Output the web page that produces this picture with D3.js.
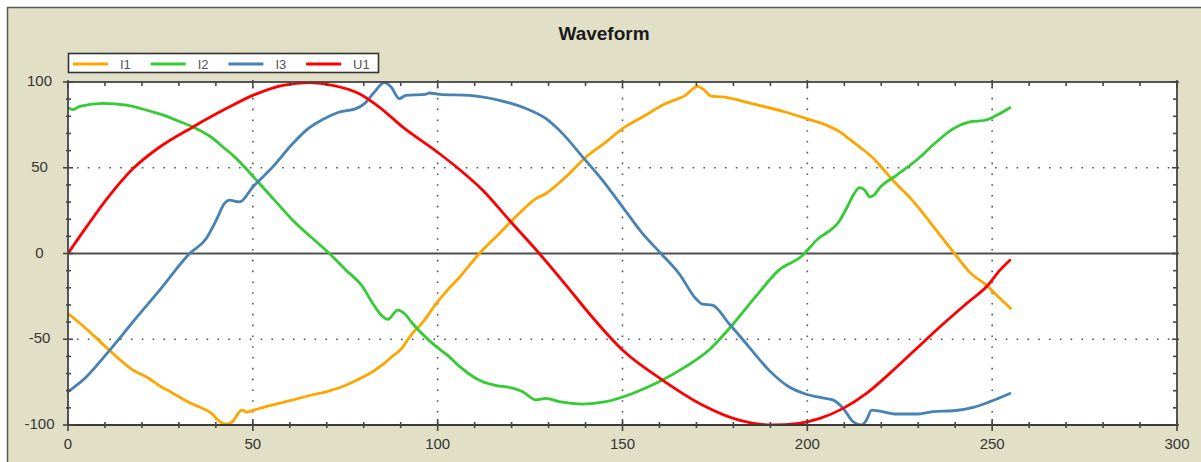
<!DOCTYPE html>
<html>
<head>
<meta charset="utf-8">
<script src="https://cdn.jsdelivr.net/npm/d3@7"></script>
<style>
  html, body { margin: 0; padding: 0; background: #ffffff; }
  svg { display: block; font-family: "Liberation Sans", Arial, sans-serif; }
</style>
</head>
<body>
<svg id="chart" width="1201" height="462"></svg>
<script>
// ---------------- data ----------------
const title = "Waveform";
const seriesNames = ["I1", "I2", "I3", "U1"];
const seriesColors = ["#ffa500", "#33cc33", "#4682b4", "#ff0000"];
const xTicks = [0, 50, 100, 150, 200, 250, 300];
const yTicks = [-100, -50, 0, 50, 100];

const i1 = [[0,-35],[5,-44],[11,-56],[17.6,-68],[22,-73],[25,-77.5],[28,-81],[32,-86],[35,-89],[37.4,-91.3],
  [39,-93.5],[40.5,-97],[42.8,-99.5],[44.5,-98],[46.5,-92],[47.2,-91.3],[48.3,-92.5],[50,-91.5],[54,-89],
  [57,-87.4],[60,-85.8],[66,-82.5],[70,-80.5],[75,-77],[80,-71.8],[82,-69.5],[85,-65],[88,-59.5],[90,-56],
  [93,-47],[96,-40],[99.5,-29.5],[103,-20.5],[106,-13.6],[111.3,0],[116.7,11.7],[122,23.3],[126.6,32],
  [129.3,35],[134.7,44.7],[140,56],[145.5,65],[150,72.8],[155.4,79.6],[161.7,87.4],[167,92.2],[170.3,97.5],
  [172,95.5],[174,91.7],[177,91.3],[185,87.4],[194,82.5],[200,78.5],[205,75],[208.8,70.9],[211.5,66.5],
  [214.2,62],[216.9,57.4],[219.6,51.5],[223,43],[228.6,30.5],[234,16],[239.8,0],[244,-11],[248.7,-19],
  [252,-26],[255,-32]];

const i2 = [[0,85],[1.4,83.9],[3.2,85.8],[9.5,87.5],[15.8,86.5],[20.4,84.1],[23,82.5],[26,80.5],[29.3,77.7],
  [33.8,73.8],[38.3,68.5],[42.8,60.5],[45,56.5],[47.3,51.5],[51.8,40.8],[56.3,30.1],[60.8,19.4],[66.2,8.7],
  [70.7,0],[75.2,-9.7],[79.7,-19.4],[82.4,-29],[84.7,-35.9],[86.5,-38.4],[89.2,-33],[91,-35],[93.2,-40.8],
  [98.6,-52.4],[103,-60],[106,-66],[109,-71],[112.2,-74.8],[116,-77],[119.4,-78.1],[123,-80.6],[126.6,-85.4],
  [129.3,-84.5],[132.9,-86.4],[139.2,-87.8],[145.5,-86.4],[152.7,-81.6],[159.9,-74.8],[167.1,-66],
  [173.4,-56.3],[179.7,-41.7],[186,-25.2],[192.3,-9.7],[198.5,-1.5],[202.5,7.8],[208.8,19.4],[211,28],
  [212.4,34],[214.2,38.4],[215.5,37],[216.9,33],[218,34],[219.6,38.4],[224.1,45.6],[229.5,54.4],[234.9,65],
  [239.5,72.8],[243.9,76.7],[248,77.7],[251.2,80.6],[254.8,85]];

const i3 = [[0,-80.6],[5,-71.8],[11.3,-56.3],[17.6,-39.8],[24.8,-21.4],[32.9,0],[37.4,8.7],[40.1,19.4],
  [42.3,29.1],[43.7,31.1],[46.4,30.1],[50,38.8],[55.4,50.5],[60.8,64.1],[64.4,71.8],[68.9,78.1],[73.4,82.5],
  [77.9,84.5],[80.2,87.4],[82.9,94.2],[85.6,99.6],[87.4,97.1],[89.6,90.3],[91.4,92.2],[96.8,92.8],[97.7,93.6],
  [100.5,92.8],[108.6,92.2],[116.7,89.3],[123.9,84.5],[129.3,78.6],[133.8,69.9],[139.2,56.3],[144.6,42.7],
  [150,27.2],[155.4,11.7],[160.4,0],[165.3,-11.7],[169.8,-26.2],[171.6,-29.5],[174.3,-30.1],[178.8,-40.8],
  [184.2,-54.4],[189.6,-68],[195,-77.7],[199.5,-81.9],[204.9,-84.5],[207,-85.5],[209.7,-90.3],[212.4,-98.1],
  [214.7,-100],[216,-97.1],[217.4,-91.3],[219.2,-91.7],[224.1,-93.6],[229.5,-93.6],[234,-92.2],[239.5,-91.7],
  [244.9,-89.7],[249.4,-86.4],[254.8,-81.6]];

const u1 = [[0,0],[5,15.5],[11.3,34],[17.6,49.5],[24.8,62.1],[33.8,73.8],[42.8,84.5],[50,92.2],[58.1,98.1],
  [65.3,99.6],[71.6,98.1],[78.8,93.2],[84.2,85.4],[90.5,73.8],[100,59],[105.9,49],[112.2,36.9],[119.4,19.4],
  [127.5,0],[134.7,-18.4],[141,-35],[150,-56.3],[160.8,-73.8],[171.6,-88.3],[181.5,-97.1],[190.5,-100],
  [197.7,-99],[203.4,-96.1],[209.7,-90.3],[216,-81.6],[222.3,-69.9],[228.6,-57.3],[235.9,-42.7],
  [243.1,-29.1],[248.9,-18.4],[252.1,-9.7],[254.8,-3.9]];

const seriesData = [i1, i2, i3, u1];

// ---------------- layout ----------------
const W = 1201, H = 462;
const plot = { left: 68, right: 1177, top: 82, bottom: 425 };
const svg = d3.select("#chart");

const x = d3.scaleLinear().domain([0, 300]).range([plot.left, plot.right]);
const y = d3.scaleLinear().domain([-100, 100]).range([plot.bottom, plot.top]);

// outer panel
svg.append("rect").attr("x", 0).attr("y", 0).attr("width", W).attr("height", H).attr("fill", "#ffffff");
svg.append("rect").attr("x", 7.5).attr("y", 7.5).attr("width", W + 10).attr("height", H + 10)
  .attr("fill", "#e1dfc6").attr("stroke", "#5a5a5a").attr("stroke-width", 1.5);

// title
svg.append("text").attr("x", 604).attr("y", 40).attr("text-anchor", "middle")
  .attr("font-size", 19).attr("font-weight", "bold").attr("fill", "#1a1a1a").text(title);

// plot background
svg.append("rect").attr("x", plot.left).attr("y", plot.top)
  .attr("width", plot.right - plot.left).attr("height", plot.bottom - plot.top).attr("fill", "#ffffff");

// dotted grid
const gridColor = "#555";
svg.append("g").selectAll("line").data(xTicks.filter(v => v > 0 && v < 300)).join("line")
  .attr("x1", d => x(d)).attr("x2", d => x(d)).attr("y1", plot.top).attr("y2", plot.bottom)
  .attr("stroke", gridColor).attr("stroke-width", 1.6).attr("stroke-dasharray", "1.6,9.2")
  .attr("stroke-dashoffset", -5);
svg.append("g").selectAll("line").data(yTicks.filter(v => v === 50 || v === -50)).join("line")
  .attr("x1", plot.left).attr("x2", plot.right).attr("y1", d => y(d)).attr("y2", d => y(d))
  .attr("stroke", gridColor).attr("stroke-width", 1.6).attr("stroke-dasharray", "1.6,9.2")
  .attr("stroke-dashoffset", -9);

// zero line
svg.append("line").attr("x1", plot.left).attr("x2", plot.right).attr("y1", y(0)).attr("y2", y(0))
  .attr("stroke", "#505050").attr("stroke-width", 2);

// series
svg.append("clipPath").attr("id", "clip").append("rect")
  .attr("x", plot.left).attr("y", plot.top - 0.5)
  .attr("width", plot.right - plot.left).attr("height", plot.bottom - plot.top + 1);
const line = d3.line().curve(d3.curveMonotoneX).x(d => x(d[0])).y(d => y(d[1]));
const gSeries = svg.append("g").attr("clip-path", "url(#clip)");
seriesData.forEach((s, i) => {
  gSeries.append("path").datum(s).attr("d", line).attr("fill", "none")
    .attr("stroke", seriesColors[i]).attr("stroke-width", 2.8)
    .attr("stroke-linejoin", "round").attr("stroke-linecap", "round");
});

// plot frame
const axisColor = "#454545";
svg.append("rect").attr("x", plot.left).attr("y", plot.top)
  .attr("width", plot.right - plot.left).attr("height", plot.bottom - plot.top)
  .attr("fill", "none").attr("stroke", axisColor).attr("stroke-width", 1.8);
svg.append("line").attr("x1", plot.left - 1).attr("x2", plot.right + 1)
  .attr("y1", plot.bottom).attr("y2", plot.bottom).attr("stroke", "#3a3a3a").attr("stroke-width", 2.2);

// ticks
const xMinor = d3.range(0, 301, 10);
const yMinor = d3.range(-100, 101, 10);
const tk = svg.append("g").attr("stroke", axisColor).attr("stroke-width", 1.6);
xMinor.forEach(v => {
  const major = v % 50 === 0;
  tk.append("line").attr("x1", x(v)).attr("x2", x(v))
    .attr("y1", plot.bottom - (major ? 6 : 3)).attr("y2", plot.bottom + (major ? 6 : 3));
  tk.append("line").attr("x1", x(v)).attr("x2", x(v))
    .attr("y1", plot.top - (major ? 2 : 0)).attr("y2", plot.top + (major ? 6 : 4));
});
yMinor.forEach(v => {
  const major = v % 50 === 0;
  tk.append("line").attr("y1", y(v)).attr("y2", y(v))
    .attr("x1", plot.left - (major ? 5 : 2)).attr("x2", plot.left + (major ? 5 : 3));
  tk.append("line").attr("y1", y(v)).attr("y2", y(v))
    .attr("x1", plot.right - (major ? 5 : 4)).attr("x2", plot.right + (major ? 2 : 0));
});

// tick labels
const labelColor = "#353535";
svg.append("g").selectAll("text").data(xTicks).join("text")
  .attr("x", d => x(d)).attr("y", 449).attr("text-anchor", "middle")
  .attr("font-size", 15).attr("fill", labelColor).text(d => d);
svg.append("g").selectAll("text").data(yTicks).join("text")
  .attr("x", 39.5).attr("y", d => y(d) + 4).attr("text-anchor", "middle")
  .attr("font-size", 15).attr("fill", labelColor).text(d => d);

// legend
const lg = svg.append("g");
lg.append("rect").attr("x", 68.5).attr("y", 53.5).attr("width", 310).attr("height", 19)
  .attr("fill", "#ffffff").attr("stroke", "#333").attr("stroke-width", 1.6);
seriesNames.forEach((name, i) => {
  const x0 = 73 + i * 77.7;
  lg.append("line").attr("x1", x0).attr("x2", x0 + 35).attr("y1", 64).attr("y2", 64)
    .attr("stroke", seriesColors[i]).attr("stroke-width", 3);
  lg.append("text").attr("x", x0 + 47).attr("y", 68.5).attr("font-size", 13)
    .attr("fill", "#555").text(name);
});
</script>
</body>
</html>
